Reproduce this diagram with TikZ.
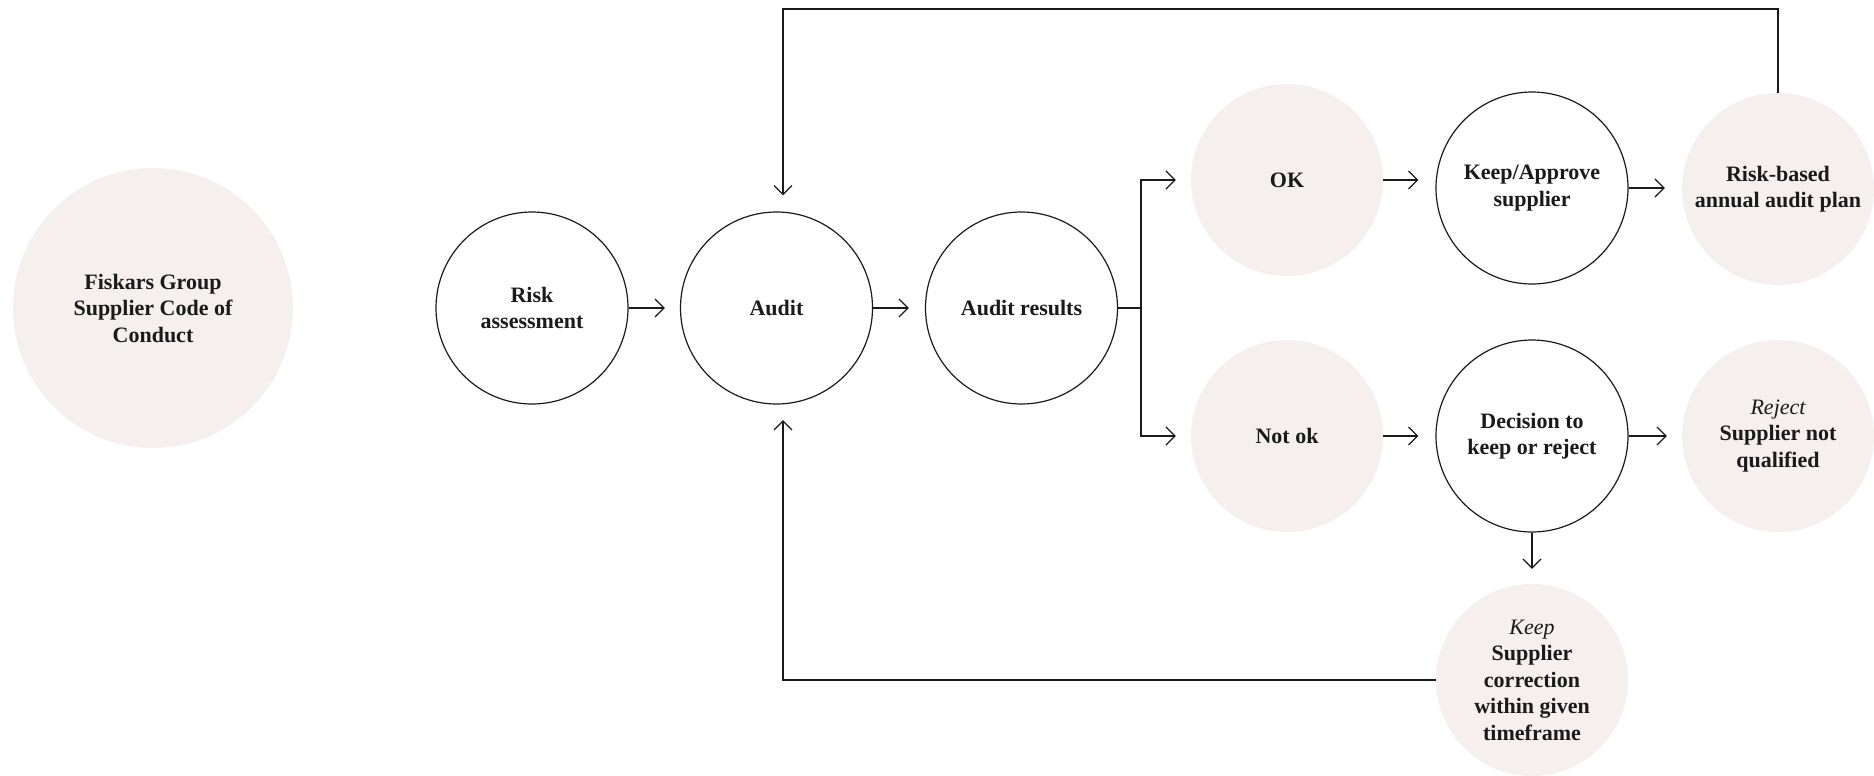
\documentclass[tikz,border=0pt]{standalone}
\usepackage{fontspec}
\setmainfont{Liberation Serif}
\usetikzlibrary{arrows.meta,calc}
\definecolor{blush}{HTML}{F5F0EE}
\definecolor{ink}{HTML}{1A1A1A}
\tikzset{
  base/.style={circle, minimum size=192pt, inner sep=0pt, align=center,
    font=\fontsize{22}{26.5}\selectfont\bfseries, text=ink},
  filled/.style={base, fill=blush},
  outlined/.style={base, draw=ink, line width=1.2pt},
  conn/.style={draw=ink, line width=1.2pt},
  arr/.style={conn, -{Straight Barb[length=9pt,width=18pt,line width=1.2pt]}},
}
\newcommand{\itl}[1]{{\normalfont\itshape #1}}
\begin{document}
\begin{tikzpicture}[x=1pt, y=-1pt]
\useasboundingbox (0,0) rectangle (1874,776);
% nodes
\node[filled, minimum size=280pt] (code) at (153,308) {Fiskars Group\\Supplier Code of\\Conduct};
\node[outlined] (risk) at (532,308) {Risk\\assessment};
\node[outlined] (audit) at (776.5,308) {Audit};
\node[outlined] (res) at (1021.5,308) {Audit results};
\node[filled] (ok) at (1287,180) {OK};
\node[outlined] (keep) at (1532,188) {Keep/Approve\\supplier};
\node[filled] (plan) at (1778,189) {Risk-based\\annual audit plan};
\node[filled] (notok) at (1287,436) {Not ok};
\node[outlined] (dec) at (1532,436) {Decision to\\keep or reject};
\node[filled] (rej) at (1778,436) {\itl{Reject}\\Supplier not\\qualified};
\node[filled] (corr) at (1532,680) {\itl{Keep}\\Supplier\\correction\\within given\\timeframe};
% helper coordinates
\coordinate (junc) at (1141,308);
\coordinate (top) at (1778,9);
\coordinate (atop) at ($(audit.north)+(6.5,0)$);
\coordinate (abot) at ($(audit.south)+(6.5,0)$);
% connectors
\draw[arr, shorten >=15pt] (risk.east) -- (audit.west);
\draw[arr, shorten >=16pt] (audit.east) -- (res.west);
\draw[conn] (res.east) -- (junc);
\draw[arr, shorten >=15pt] (junc) |- (ok.west);
\draw[arr, shorten >=15pt] (junc) |- (notok.west);
\draw[arr, shorten >=17pt] (ok.east) -- (ok.east -| keep.west);
\draw[arr, shorten >=17pt] (keep.east) -- (keep.east -| plan.west);
\draw[arr, shorten >=17pt] (notok.east) -- (dec.west);
\draw[arr, shorten >=15pt] (dec.east) -- (rej.west);
\draw[arr, shorten >=15pt] (dec.south) -- (corr.north);
\draw[arr, shorten >=16pt] (plan.north) -- (top) -| (atop);
\draw[arr, shorten >=15.5pt] (corr.west) -| (abot);
\end{tikzpicture}
\end{document}
